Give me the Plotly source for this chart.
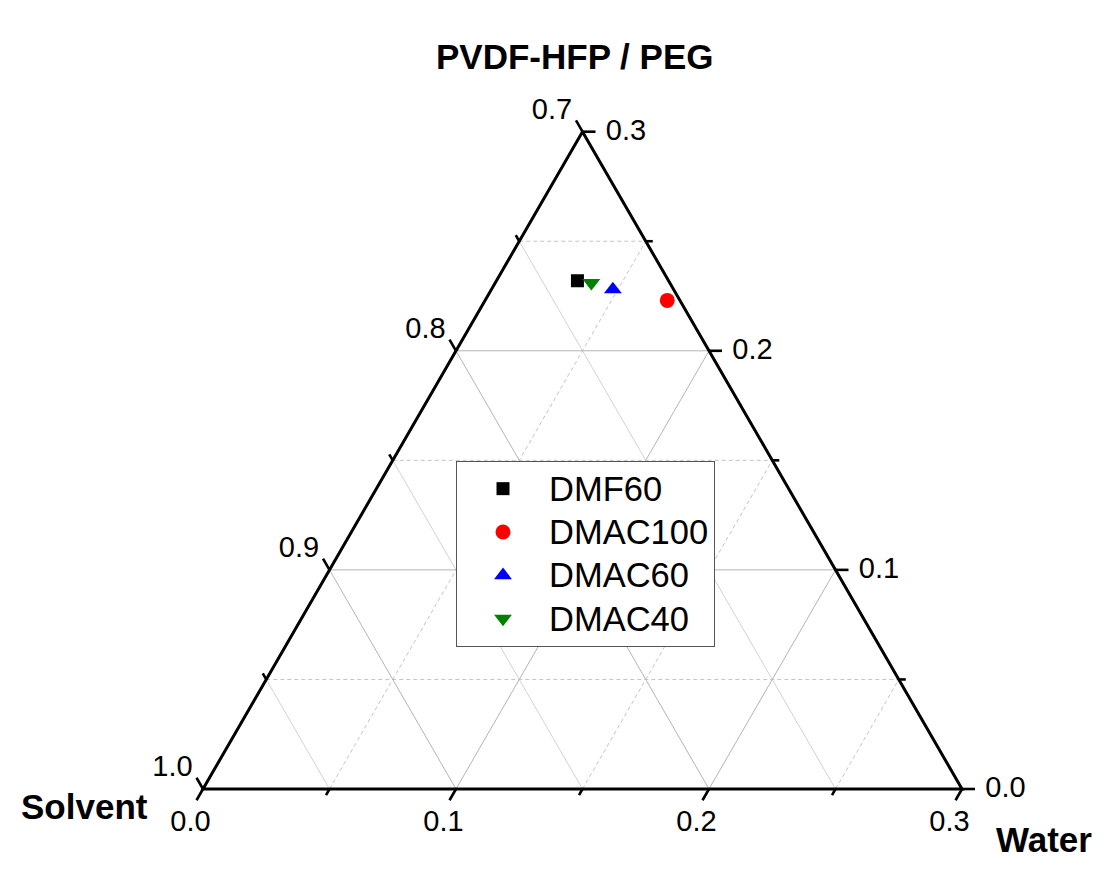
import math
import plotly.graph_objects as go

# ---------------- data ----------------
series = ["DMF60", "DMAC100", "DMAC60", "DMAC40"]
pvdf_peg = [0.232, 0.223, 0.228, 0.231]
solvent = [0.736, 0.705, 0.724, 0.731]
water = [0.032, 0.072, 0.048, 0.038]

colors = ["#000000", "#ff0000", "#0000ff", "#008000"]
symbols = ["square", "circle", "triangle-up", "triangle-down"]
sizes = [13, 15, 15.5, 15.5]

solvent_ticks = [0.7, 0.8, 0.9, 1.0]
water_ticks = [0.0, 0.1, 0.2, 0.3]
pvdf_ticks = [0.0, 0.1, 0.2, 0.3]
solvent_minor = [0.75, 0.85, 0.95]
water_minor = [0.05, 0.15, 0.25]
pvdf_minor = [0.05, 0.15, 0.25]
solvent_grid = [0.8, 0.9]
water_grid = [0.1, 0.2]
pvdf_grid = [0.1, 0.2]

title_top = "PVDF-HFP / PEG"
title_left = "Solvent"
title_right = "Water"

# ---------------- geometry ----------------
W, H = 1107, 871
SOLV_MIN = 0.7
SPAN = 1 - SOLV_MIN
TRI_LEFT, TRI_RIGHT, TRI_BOTTOM = 203, 962, 789
S = (TRI_RIGHT - TRI_LEFT) / SPAN          # px per composition unit
R3 = math.sqrt(3) / 2
FONT = "Liberation Sans, Arial, sans-serif"

# The ternary subplot is a slightly larger triangle (padding on every side)
# so that ticks and tick labels, which lie outside the composition triangle,
# can be drawn with the ternary scale itself.
PAD_A, PAD_B, PAD_C = 0.025, 0.025, 0.025   # bottom, right, left padding
TOTAL = 1 + PAD_A + PAD_B + PAD_C


def P(pts):
    """composition points (a, b, c) -> plotted ternary coordinates"""
    return dict(a=[None if p is None else p[0] + PAD_A for p in pts],
                b=[None if p is None else p[1] + PAD_B for p in pts],
                c=[None if p is None else p[2] + PAD_C for p in pts])


def shift(p, dx, dy):
    """move composition point p by a pixel offset (dx right, dy down)"""
    a, b, c = p
    da = -dy / (S * R3)
    dc = dx / S - da / 2
    return a + da, b - da - dc, c + dc


def left_pt(v):      # solvent value on the left edge
    return (1 - v, v, 0.0)


def right_pt(v):     # PVDF-HFP/PEG value on the right edge
    return (v, SOLV_MIN, SPAN - v)


def bottom_pt(v):    # water value on the bottom edge
    return (0.0, 1 - v, v)


fig = go.Figure()


def lines_trace(pairs, color, width, dash="solid"):
    pts = []
    for seg in pairs:
        pts += list(seg) + [None]
    return go.Scatterternary(**P(pts), mode="lines",
                             line=dict(color=color, width=width, dash=dash),
                             hoverinfo="skip", showlegend=False)


# minor grid
DASH = "4px,3px"
fig.add_trace(lines_trace([(left_pt(1 - v), right_pt(v)) for v in pvdf_minor], "#c4c4c4", 1, DASH))
fig.add_trace(lines_trace([(bottom_pt(v), right_pt(SPAN - v)) for v in water_minor], "#c4c4c4", 1, DASH))
fig.add_trace(lines_trace([(left_pt(v), bottom_pt(1 - v)) for v in solvent_minor], "#d2d2d2", 1))
# major grid
fig.add_trace(lines_trace([(left_pt(1 - v), right_pt(v)) for v in pvdf_grid], "#b4b4b4", 1))
fig.add_trace(lines_trace([(bottom_pt(v), right_pt(SPAN - v)) for v in water_grid], "#b4b4b4", 1))
fig.add_trace(lines_trace([(left_pt(v), bottom_pt(1 - v)) for v in solvent_grid], "#b4b4b4", 1))
# frame
fig.add_trace(lines_trace([(left_pt(SOLV_MIN), left_pt(1.0), bottom_pt(SPAN), right_pt(SPAN))],
                          "black", 3))


# ---------------- tick marks ----------------
def tick_trace(points, direction, length, angle, symbol):
    ux, uy = direction
    pts = [shift(p, ux * length / 2, uy * length / 2) for p in points]
    return go.Scatterternary(
        **P(pts), mode="markers", cliponaxis=False, hoverinfo="skip", showlegend=False,
        marker=dict(symbol=symbol, size=length / 1.4, angle=angle,
                    color="black", line=dict(color="black", width=2.6)))


LEFT_DIR = (-0.5, -R3)
RIGHT_DIR = (1.0, 0.0)
BOTTOM_DIR = (-0.5, R3)

fig.add_trace(tick_trace([left_pt(v) for v in solvent_ticks], LEFT_DIR, 13, -30, "line-ns"))
fig.add_trace(tick_trace([left_pt(v) for v in solvent_minor], LEFT_DIR, 7, -30, "line-ns"))
fig.add_trace(tick_trace([right_pt(v) for v in pvdf_ticks], RIGHT_DIR, 13, 0, "line-ew"))
fig.add_trace(tick_trace([right_pt(v) for v in pvdf_minor], RIGHT_DIR, 7, 0, "line-ew"))
fig.add_trace(tick_trace([bottom_pt(v) for v in water_ticks], BOTTOM_DIR, 13, 30, "line-ns"))
fig.add_trace(tick_trace([bottom_pt(v) for v in water_minor], BOTTOM_DIR, 7, 30, "line-ns"))


# ---------------- tick labels ----------------
def label_trace(points, values, dx, dy):
    pts = [shift(p, dx, dy) for p in points]
    return go.Scatterternary(
        **P(pts), mode="text", text=[f"{v:.1f}" for v in values],
        textposition="middle center",
        textfont=dict(family=FONT, size=29, color="black"),
        cliponaxis=False, hoverinfo="skip", showlegend=False)


fig.add_trace(label_trace([left_pt(v) for v in solvent_ticks], solvent_ticks, -30.5, -20))
fig.add_trace(label_trace([right_pt(v) for v in pvdf_ticks], pvdf_ticks, 43.5, 1))
fig.add_trace(label_trace([bottom_pt(v) for v in water_ticks], water_ticks, -12.5, 34.5))

# ---------------- data ----------------
for i, name in enumerate(series):
    fig.add_trace(go.Scatterternary(
        **P([(pvdf_peg[i], solvent[i], water[i])]),
        mode="markers", name=f'<span style="font-size:34.5px">{name}</span>',
        hoverinfo="skip",
        marker=dict(symbol=symbols[i], size=sizes[i], color=colors[i], line=dict(width=0))))

# ---------------- subplot placement ----------------
def px(a, c):
    return TRI_LEFT + S * (c + a / 2), TRI_BOTTOM - S * R3 * a

x_left, y_bottom = px(-PAD_A, -PAD_C)
_, y_top = px(SPAN + PAD_B + PAD_C, -PAD_C)
big_w = S * (SPAN + PAD_A + PAD_B + PAD_C)
x_center = x_left + big_w / 2
half_w = big_w / 2 + 10

hidden = dict(showline=False, showgrid=False, showticklabels=False, ticks="",
              title=dict(text=""))

fig.update_layout(
    width=W, height=H,
    margin=dict(l=0, r=0, t=0, b=0),
    paper_bgcolor="white",
    hovermode=False,
    ternary=dict(
        sum=TOTAL,
        domain=dict(x=[(x_center - half_w) / W, (x_center + half_w) / W],
                    y=[1 - y_bottom / H, 1 - y_top / H]),
        bgcolor="rgba(0,0,0,0)",
        aaxis=dict(min=0, **hidden),
        baxis=dict(min=SOLV_MIN, **hidden),
        caxis=dict(min=0, **hidden),
    ),
    legend=dict(x=456 / W, y=1 - 461 / H, xanchor="left", yanchor="top",
                bordercolor="#555555", borderwidth=1, bgcolor="white",
                font=dict(family=FONT, size=31, color="black"),
                itemwidth=82, tracegroupgap=0),
    annotations=[
        dict(text=f"<b>{title_top}</b>", x=574 / W, y=1 - 57 / H, xref="paper", yref="paper",
             xanchor="center", yanchor="middle", showarrow=False,
             font=dict(family=FONT, size=35, color="black")),
        dict(text=f"<b>{title_left}</b>", x=84 / W, y=1 - 806 / H, xref="paper", yref="paper",
             xanchor="center", yanchor="middle", showarrow=False,
             font=dict(family=FONT, size=35, color="black")),
        dict(text=f"<b>{title_right}</b>", x=1044 / W, y=1 - 839 / H, xref="paper", yref="paper",
             xanchor="center", yanchor="middle", showarrow=False,
             font=dict(family=FONT, size=35, color="black")),
    ],
)

fig.write_html("out.html")
